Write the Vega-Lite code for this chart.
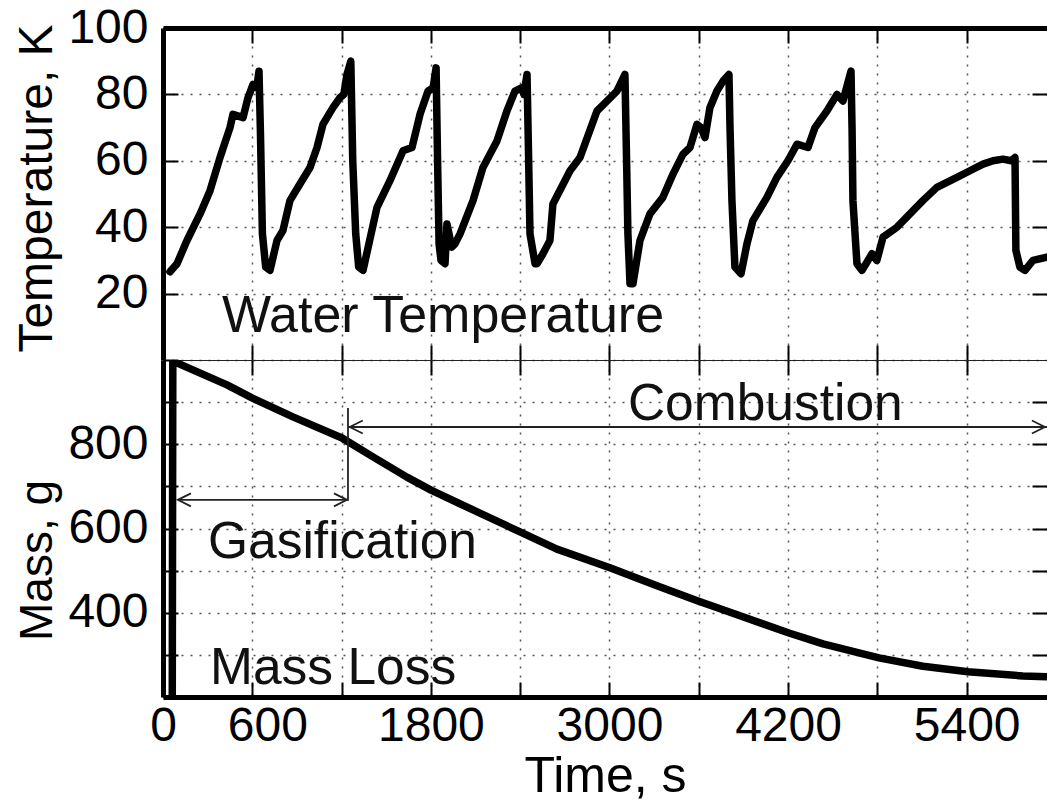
{
  "$schema": "https://vega.github.io/schema/vega-lite/v6.json",
  "padding": {"left": 13, "top": 4, "right": 0, "bottom": 0},
  "background": "white",
  "spacing": 0,
  "bounds": "flush",
  "config": {
    "font": "Liberation Sans",
    "view": {"stroke": null},
    "axis": {
      "labelFont": "Liberation Sans", "labelFontSize": 48, "labelColor": "#000",
      "titleFont": "Liberation Sans", "titleFontWeight": "normal", "titleColor": "#000",
      "domainColor": "#000", "tickColor": "#000", "tickWidth": 2, "tickSize": -15,
      "gridColor": "#555", "gridDash": [2, 7], "gridWidth": 1.5, "labelFlush": false, "labelOverlap": false
    }
  },
  "datasets": {
    "temp": [
      {"t":47,"T":26.6},{"t":94,"T":29},{"t":161,"T":36},{"t":249,"T":44},{"t":316,"T":51},{"t":383,"T":61},{"t":450,"T":70},{"t":470,"T":74},{"t":538,"T":73},{"t":571,"T":79},{"t":605,"T":83},{"t":630,"T":82},{"t":645,"T":87},{"t":655,"T":68},{"t":668,"T":38},{"t":690,"T":28},{"t":719,"T":27},{"t":766,"T":36},{"t":806,"T":39},{"t":853,"T":48},{"t":920,"T":53},{"t":988,"T":58},{"t":1035,"T":64},{"t":1075,"T":71},{"t":1142,"T":76},{"t":1189,"T":79},{"t":1215,"T":80},{"t":1236,"T":86},{"t":1262,"T":90},{"t":1275,"T":60},{"t":1295,"T":38},{"t":1315,"T":28},{"t":1344,"T":27},{"t":1438,"T":46},{"t":1525,"T":54},{"t":1613,"T":63},{"t":1673,"T":64},{"t":1727,"T":74},{"t":1781,"T":81},{"t":1815,"T":82},{"t":1835,"T":88},{"t":1845,"T":60},{"t":1855,"T":35},{"t":1868,"T":30},{"t":1895,"T":29},{"t":1908,"T":41},{"t":1940,"T":34},{"t":1962,"T":35},{"t":1996,"T":38},{"t":2083,"T":48},{"t":2150,"T":58},{"t":2244,"T":66},{"t":2311,"T":75},{"t":2365,"T":81},{"t":2412,"T":82},{"t":2425,"T":80},{"t":2446,"T":86},{"t":2455,"T":65},{"t":2466,"T":38},{"t":2500,"T":29},{"t":2513,"T":29},{"t":2553,"T":32},{"t":2600,"T":36},{"t":2620,"T":47},{"t":2735,"T":57},{"t":2802,"T":61},{"t":2916,"T":75},{"t":2983,"T":78},{"t":3050,"T":81},{"t":3104,"T":86},{"t":3115,"T":60},{"t":3124,"T":38},{"t":3138,"T":23},{"t":3158,"T":23},{"t":3205,"T":36},{"t":3272,"T":44},{"t":3359,"T":49},{"t":3427,"T":56},{"t":3494,"T":62},{"t":3541,"T":64},{"t":3588,"T":71},{"t":3615,"T":70},{"t":3642,"T":67},{"t":3675,"T":76},{"t":3722,"T":81},{"t":3763,"T":84},{"t":3803,"T":86},{"t":3810,"T":70},{"t":3823,"T":48},{"t":3843,"T":28},{"t":3884,"T":26},{"t":3924,"T":35},{"t":3964,"T":42},{"t":4058,"T":49},{"t":4125,"T":55},{"t":4199,"T":60},{"t":4260,"T":65},{"t":4334,"T":64},{"t":4381,"T":70},{"t":4461,"T":75},{"t":4529,"T":80},{"t":4569,"T":78},{"t":4623,"T":87},{"t":4630,"T":70},{"t":4636,"T":48},{"t":4663,"T":29},{"t":4697,"T":27},{"t":4764,"T":32},{"t":4797,"T":30},{"t":4838,"T":37},{"t":4932,"T":40},{"t":5019,"T":44},{"t":5106,"T":48},{"t":5200,"T":52},{"t":5335,"T":55},{"t":5422,"T":57},{"t":5510,"T":59},{"t":5577,"T":60},{"t":5644,"T":60.5},{"t":5700,"T":60},{"t":5725,"T":61},{"t":5731,"T":33},{"t":5758,"T":28},{"t":5792,"T":27},{"t":5846,"T":30},{"t":5940,"T":31}
    ],
    "mass": [
      {"t":62,"m":150},{"t":66,"m":1000},{"t":81,"m":995},{"t":430,"m":941},{"t":598,"m":910},{"t":873,"m":865},{"t":1203,"m":815},{"t":1411,"m":770},{"t":1639,"m":722},{"t":1801,"m":691},{"t":2083,"m":644},{"t":2399,"m":592},{"t":2647,"m":551},{"t":3003,"m":507},{"t":3319,"m":464},{"t":3595,"m":428},{"t":3763,"m":407},{"t":4206,"m":352},{"t":4435,"m":326},{"t":4811,"m":293},{"t":5106,"m":273},{"t":5409,"m":260},{"t":5778,"m":250},{"t":5940,"m":248}
    ],
    "topLabels": [{"t":396,"T":8.4,"label":"Water Temperature"}],
    "bottomLabels": [
      {"t":3124,"m":857,"label":"Combustion"},
      {"t":302,"m":529,"label":"Gasification"},
      {"t":316,"m":231,"label":"Mass Loss"}
    ],
    "arrows": [
      {"t":100,"t2":1243,"m":668,"m2":668},
      {"t":1243,"t2":5940,"m":841,"m2":841},
      {"t":1243,"t2":1243,"m":886,"m2":666}
    ],
    "heads": [
      {"t":100,"m":668,"dir":"left"},
      {"t":1236,"m":668,"dir":"right"},
      {"t":1255,"m":841,"dir":"left"},
      {"t":5926,"m":841,"dir":"right"}
    ]
  },
  "vconcat": [
    {
      "width": 884,
      "height": 332,
      "resolve": {"axis": {"x": "independent", "y": "independent"}},
      "layer": [
        {
          "data": {"name": "temp"},
          "mark": {"type": "line", "color": "#000", "strokeWidth": 7.5, "strokeJoin": "round", "strokeCap": "round"},
          "encoding": {
            "x": {"field": "t", "type": "quantitative", "scale": {"domain": [0, 5940], "nice": false, "zero": false},
              "axis": {"orient": "bottom", "values": [600,1200,1800,2400,3000,3600,4200,4800,5400], "labels": false, "title": null, "domainWidth": 1.2, "domainColor": "#222", "grid": true}},
            "y": {"field": "T", "type": "quantitative", "scale": {"domain": [0, 100], "nice": false},
              "axis": {"orient": "left", "values": [20,40,60,80,100], "grid": true, "title": "Temperature, K", "titleFontSize": 48, "titleX": -112, "titleY": 160, "titleBaseline": "alphabetic", "domainWidth": 5, "labelPadding": 30}}
          }
        },
        {
          "data": {"name": "topLabels"},
          "mark": {"type": "text", "align": "left", "baseline": "alphabetic", "fontSize": 52, "color": "#111"},
          "encoding": {
            "x": {"field": "t", "type": "quantitative", "axis": {"orient": "top", "values": [600,1200,1800,2400,3000,3600,4200,4800,5400], "labels": false, "title": null, "grid": false, "domainWidth": 5}},
            "y": {"field": "T", "type": "quantitative", "axis": {"orient": "right", "values": [20,40,60,80], "labels": false, "title": null, "grid": false, "domain": false}},
            "text": {"field": "label"}
          }
        }
      ]
    },
    {
      "width": 884,
      "height": 337,
      "resolve": {"axis": {"x": "independent", "y": "independent"}},
      "layer": [
        {
          "data": {"name": "mass"},
          "mark": {"type": "line", "color": "#000", "strokeWidth": 7.5, "strokeJoin": "round", "clip": true},
          "encoding": {
            "x": {"field": "t", "type": "quantitative", "scale": {"domain": [0, 5940], "nice": false, "zero": false},
              "axis": {"orient": "bottom", "values": [0,600,1200,1800,2400,3000,3600,4200,4800,5400], "labelExpr": "indexof([0,600,1800,3000,4200,5400], datum.value) >= 0 ? datum.label : ''", "format": "d", "labelOffset": {"condition": {"test": "datum.value == 600", "value": 15}, "value": 0}, "grid": true, "domainWidth": 5, "labelPadding": 20, "title": "Time, s", "titleFontSize": 50, "titlePadding": 1}},
            "y": {"field": "m", "type": "quantitative", "scale": {"domain": [200, 1000], "nice": false, "zero": false},
              "axis": {"orient": "left", "values": [200,300,400,500,600,700,800,900,1000], "labelExpr": "indexof([400,600,800], datum.value) >= 0 ? datum.label : ''", "grid": true, "domainWidth": 5, "labelPadding": 30, "title": "Mass, g", "titleFontSize": 46, "titleX": -112, "titleY": 200, "titleBaseline": "alphabetic"}}
          }
        },
        {
          "data": {"name": "bottomLabels"},
          "mark": {"type": "text", "align": "left", "baseline": "alphabetic", "fontSize": 51.5, "color": "#111"},
          "encoding": {
            "x": {"field": "t", "type": "quantitative", "axis": {"orient": "top", "values": [600,1200,1800,2400,3000,3600,4200,4800,5400], "labels": false, "title": null, "grid": false, "domainWidth": 1.2, "domainColor": "#222"}},
            "y": {"field": "m", "type": "quantitative", "axis": {"orient": "right", "values": [300,400,500,600,700,800,900], "labels": false, "title": null, "grid": false, "domain": false}},
            "text": {"field": "label"}
          }
        },
        {
          "data": {"name": "arrows"},
          "mark": {"type": "rule", "color": "#222", "strokeWidth": 1.8},
          "encoding": {
            "x": {"field": "t", "type": "quantitative", "axis": null},
            "x2": {"field": "t2"},
            "y": {"field": "m", "type": "quantitative", "axis": null},
            "y2": {"field": "m2"}
          }
        },
        {
          "data": {"name": "heads"},
          "mark": {"type": "point", "filled": false, "color": "#222", "strokeWidth": 1.8, "size": 676, "opacity": 1},
          "encoding": {
            "x": {"field": "t", "type": "quantitative", "axis": null},
            "y": {"field": "m", "type": "quantitative", "axis": null},
            "shape": {"field": "dir", "type": "nominal", "legend": null,
              "scale": {"domain": ["left", "right"], "range": ["M1,-0.5L0,0L1,0.5", "M-1,-0.5L0,0L-1,0.5"]}}
          }
        }
      ]
    }
  ]
}
